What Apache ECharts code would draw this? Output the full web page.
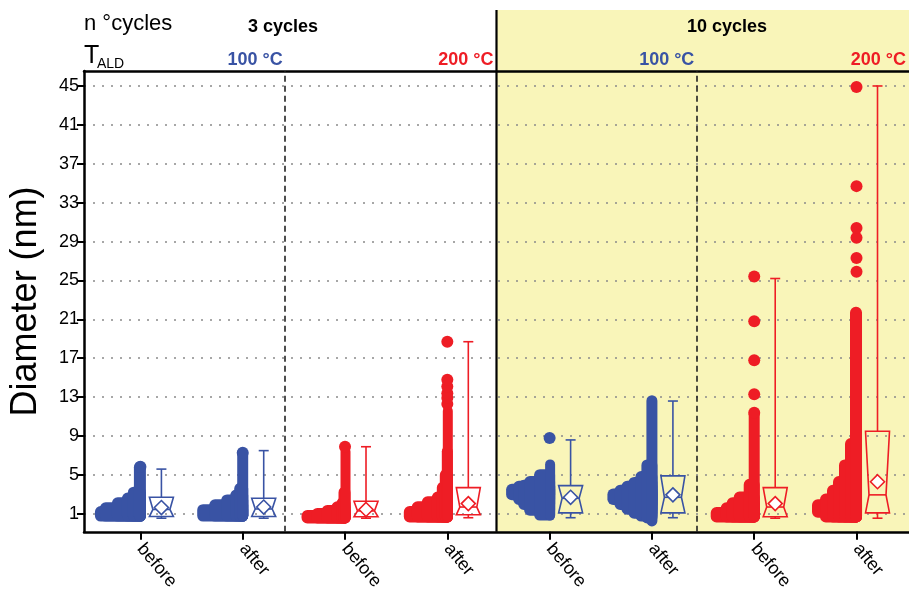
<!DOCTYPE html>
<html><head><meta charset="utf-8">
<script src="https://cdn.jsdelivr.net/npm/echarts@6/dist/echarts.min.js"></script>
<style>html,body{margin:0;padding:0;background:#fff}#c{width:909px;height:593px}</style>
</head><body><div id="c"></div>
<script>
// ---- data ----
const categories = ['before','after','before','after','before','after','before','after'];
const groupTemp = ['100 °C','100 °C','200 °C','200 °C','100 °C','100 °C','200 °C','200 °C'];
const yTicks = [1,5,9,13,17,21,25,29,33,37,41,45];
// swarm bands per group: [low diameter, high diameter, width in dot diameters]
const swarm1 = [[0.8,1.2,5.1],[0.8,1.6,4.6],[0.8,2.1,3.4],[0.8,2.6,2.4],[0.8,3.2,1.8],[0.8,5.8,1.2]];
const swarm2 = [[0.8,1.4,5.1],[0.8,1.9,3.9],[0.8,2.4,2.7],[0.8,2.9,1.8],[0.8,3.6,1.4],[0.8,7.2,1.1]];
const swarm3 = [[0.6,0.8,4.9],[0.6,1.0,3.9],[0.6,1.3,2.9],[0.6,1.7,1.9],[0.6,2.1,1.4],[0.6,3.2,1.2],[0.6,7.3,1.0]];
const swarm4 = [[0.7,1.2,4.9],[0.7,1.7,4.1],[0.7,2.2,3.1],[0.7,2.7,2.1],[0.7,3.7,1.6],[0.7,5.0,1.3],[0.7,7.4,1.1],[0.7,11.5,1.0]];
const swarm5 = [[3.0,3.5,4.9],[2.5,3.8,4.2],[2.0,3.9,3.7],[1.4,4.3,3.1],[0.9,5.0,2.1],[0.9,6.0,1.0]];
const swarm6 = [[2.5,3.0,5.0],[2.0,3.4,4.3],[1.5,3.8,3.6],[1.1,4.2,2.9],[0.8,4.8,2.2],[0.6,6.0,1.6],[0.3,12.6,1.1]];
const swarm7 = [[0.7,1.1,4.9],[0.7,1.6,3.9],[0.7,2.1,3.3],[0.7,2.7,2.6],[0.7,4.0,1.6],[0.7,11.2,1.1]];
const swarm8 = [[1.2,1.9,5.0],[0.7,2.5,4.2],[0.7,3.4,3.5],[0.7,4.3,2.9],[0.7,6.0,2.3],[0.7,8.2,1.7],[0.7,21.7,1.2]];
// isolated particles
const outliers1 = [5.85];
const outliers2 = [7.27];
const outliers3 = [7.9];
const outliers4 = [12.3,12.9,13.4,14.1,14.8,18.7];
const outliers5 = [8.8];
const outliers6 = [];
const outliers7 = [11.4,13.3,16.8,20.8,25.4];
const outliers8 = [25.9,27.3,29.4,30.4,34.7,44.9];
// box stats: [whisker low, q1, median, q3, whisker high, mean]
const box1 = [0.55,0.72,1.45,2.7,5.6,1.65];
const box2 = [0.55,0.72,1.5,2.6,7.5,1.7];
const box3 = [0.55,0.7,1.3,2.3,7.9,1.45];
const box4 = [0.6,0.9,1.7,3.7,18.7,2.05];
const box5 = [0.6,1.1,2.6,3.9,8.6,2.7];
const box6 = [0.6,1.1,2.7,4.9,12.6,2.95];
const box7 = [0.55,0.7,1.7,3.7,25.2,2.05];
const box8 = [0.55,1.1,2.95,9.5,45.0,4.3];

const swarms = [swarm1,swarm2,swarm3,swarm4,swarm5,swarm6,swarm7,swarm8];
const outliers = [outliers1,outliers2,outliers3,outliers4,outliers5,outliers6,outliers7,outliers8];
const boxes = [box1,box2,box3,box4,box5,box6,box7,box8];

// ---- style / layout ----
const BLUE = '#3953a4', RED = '#ee1d25', YELLOW = '#f9f5b9';
const colorOf = gi => groupTemp[gi] === '100 °C' ? BLUE : RED;
const tickPos = gi => 0.547 + 0.992 * gi;
const DOT = 10, R = 5.8;
const FONT = '"Liberation Sans", Arial, sans-serif';

const swarmData = [];
swarms.forEach((s, gi) => s.forEach(b => swarmData.push([gi, b[0], b[1], b[2]])));
const outlierData = [];
outliers.forEach((o, gi) => o.forEach(v => outlierData.push({value: [tickPos(gi), v], itemStyle: {color: colorOf(gi), opacity: 1}})));
const boxData = boxes.map((b, gi) => [gi].concat(b));

function renderSwarm(params, api) {
  const gi = api.value(0), lo = api.value(1), hi = api.value(2), w = api.value(3);
  const xr = api.coord([tickPos(gi), 0])[0] + 5.5;
  const yTop = api.coord([0, hi])[1] - R;
  const yBot = api.coord([0, lo])[1] + R;
  const width = w * DOT;
  return {type: 'rect', shape: {x: xr - width, y: yTop, width: width, height: yBot - yTop, r: R},
          style: {fill: colorOf(gi)}};
}
function renderBox(params, api) {
  const gi = api.value(0);
  const xc = api.coord([tickPos(gi), 0])[0] + 21;
  const y = i => api.coord([0, api.value(i)])[1];
  const yLo = y(1), yQ1 = y(2), yMed = y(3), yQ3 = y(4), yHi = y(5), yMean = y(6);
  const hw = 12, ins = 3.5, cap = 5, d = 7, col = colorOf(gi);
  const ls = {stroke: col, lineWidth: 1.6, fill: null};
  return {type: 'group', children: [
    {type: 'line', shape: {x1: xc, y1: yQ3, x2: xc, y2: yHi}, style: ls},
    {type: 'line', shape: {x1: xc - cap, y1: yHi, x2: xc + cap, y2: yHi}, style: ls},
    {type: 'line', shape: {x1: xc, y1: yQ1, x2: xc, y2: yLo}, style: ls},
    {type: 'line', shape: {x1: xc - cap, y1: yLo, x2: xc + cap, y2: yLo}, style: ls},
    {type: 'polygon', shape: {points: [[xc-hw,yQ3],[xc+hw,yQ3],[xc+hw-ins,yMed],[xc+hw,yQ1],[xc-hw,yQ1],[xc-hw+ins,yMed]]},
     style: {stroke: col, lineWidth: 1.6, fill: 'rgba(255,255,255,0)'}},
    {type: 'line', shape: {x1: xc - hw + ins, y1: yMed, x2: xc + hw - ins, y2: yMed}, style: ls},
    {type: 'polygon', shape: {points: [[xc, yMean - d],[xc + d, yMean],[xc, yMean + d],[xc - d, yMean]]},
     style: {fill: '#fff', stroke: col, lineWidth: 1.6}}
  ]};
}

const XMIN = 0, XMAX = 8, YMIN = -0.85, YMAX = 46.54;
const chart = echarts.init(document.getElementById('c'), null, {renderer: 'canvas'});
const option = {
  animation: false,
  grid: {left: 84, right: -9, top: 71, bottom: 61, containLabel: false},
  xAxis: [{
    type: 'value', min: XMIN, max: XMAX,
    axisLine: {show: true, onZero: false, lineStyle: {color: '#000', width: 2.5}},
    axisTick: {show: true, customValues: categories.map((c, i) => tickPos(i)), length: 8, lineStyle: {color: '#000', width: 2}},
    axisLabel: {show: true, customValues: categories.map((c, i) => tickPos(i)), rotate: -50, margin: 14,
      fontFamily: FONT, fontSize: 18, color: '#000',
      formatter: v => categories[Math.round((v - 0.547) / 0.992)]},
    splitLine: {show: false}
  }, {
    type: 'value', min: XMIN, max: XMAX, position: 'top',
    axisLine: {show: true, onZero: false, lineStyle: {color: '#000', width: 2.5}},
    axisTick: {show: false}, axisLabel: {show: false}, splitLine: {show: false}
  }],
  yAxis: {
    type: 'value', min: YMIN, max: YMAX,
    name: 'Diameter (nm)', nameLocation: 'middle', nameGap: 40,
    nameTextStyle: {fontFamily: FONT, fontSize: 36, color: '#000'},
    axisLine: {show: true, onZero: false, lineStyle: {color: '#000', width: 2.5}},
    axisTick: {show: true, customValues: yTicks, length: 7, lineStyle: {color: '#000', width: 2}},
    axisLabel: {show: true, customValues: yTicks, margin: 5, fontFamily: FONT, fontSize: 18, color: '#000'},
    splitLine: {show: true, lineStyle: {color: '#8a8a8a', width: 1.5, type: [2, 7]}}
  },
  series: [
    {type: 'custom', name: 'swarm', renderItem: renderSwarm, data: swarmData, clip: false, z: 3,
     encode: {x: 0, y: [1, 2]}},
    {type: 'scatter', name: 'isolated', data: outlierData, symbolSize: 12, z: 4,
     itemStyle: {opacity: 1},
     markLine: {silent: true, symbol: 'none', label: {show: false},
       lineStyle: {color: '#222', width: 1.6, type: [6, 4]},
       data: [{xAxis: 1.947}, {xAxis: 5.938}]}},
    {type: 'custom', name: 'box', renderItem: renderBox, data: boxData, clip: false, z: 5,
     encode: {x: 0, y: [1, 5]}}
  ]
};
chart.setOption(option);

const px = v => chart.convertToPixel({xAxisIndex: 0}, v);
const py = v => chart.convertToPixel({yAxisIndex: 0}, v);
const xSplit = px(4), xD1 = px(1.947), xD2 = px(5.938), xEnd = px(8), yBot = py(YMIN);
const txt = (x, y, text, size, weight, color, align) => ({type: 'text', x: x, y: y, z: 50,
  style: {text: text, fontFamily: FONT, fontSize: size, fontWeight: weight, fill: color, align: align, verticalAlign: 'middle'}});
chart.setOption({graphic: {elements: [
  {type: 'rect', z: -100, shape: {x: xSplit, y: 10, width: 909 - xSplit + 20, height: yBot - 10}, style: {fill: YELLOW}},
  {type: 'line', z: 40, shape: {x1: xSplit, y1: 10, x2: xSplit, y2: yBot}, style: {stroke: '#000', lineWidth: 2.2}},
  txt(84, 24, 'n °cycles', 22, 'normal', '#000', 'left'),
  txt(283, 27, '3 cycles', 18, 'bold', '#000', 'center'),
  txt(727, 27, '10 cycles', 18, 'bold', '#000', 'center'),
  txt(84, 56, 'T', 25, 'normal', '#000', 'left'),
  txt(97, 64, 'ALD', 14, 'normal', '#000', 'left'),
  txt(xD1 - 2, 60, groupTemp[0], 18, 'bold', BLUE, 'right'),
  txt(xSplit - 3, 60, groupTemp[2], 18, 'bold', RED, 'right'),
  txt(xD2 - 2, 60, groupTemp[4], 18, 'bold', BLUE, 'right'),
  txt(xEnd - 3, 60, groupTemp[6], 18, 'bold', RED, 'right')
]}});
</script></body></html>
